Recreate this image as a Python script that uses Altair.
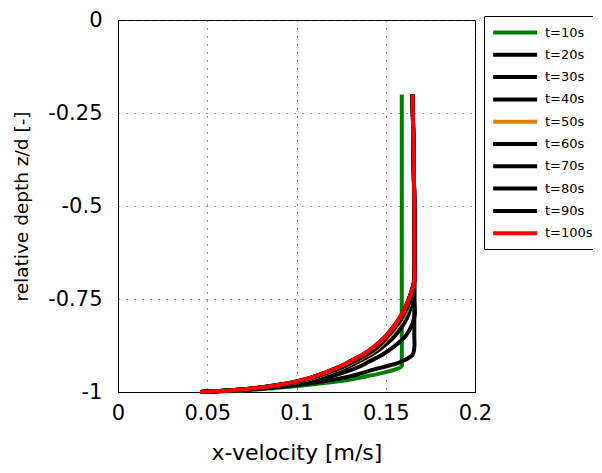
import altair as alt
import pandas as pd

series = ["t=10s", "t=20s", "t=30s", "t=40s", "t=50s",
          "t=60s", "t=70s", "t=80s", "t=90s", "t=100s"]
colors = ["#008000", "#000000", "#000000", "#000000", "#e08010",
          "#000000", "#000000", "#000000", "#000000", "#ff0000"]

depth = [-0.2, -0.5, -0.6, -0.65, -0.7, -0.75, -0.8, -0.85, -0.88, -0.9,
         -0.92, -0.93, -0.94, -0.95, -0.96, -0.97, -0.98, -0.99, -0.995, -1.0]

u_t10 = [0.159, 0.159, 0.159, 0.159, 0.159, 0.159, 0.159, 0.159, 0.159, 0.159,
         0.159, 0.159, 0.155, 0.147, 0.137, 0.126, 0.108, 0.087, 0.072, 0.046]
u_t20 = [0.165, 0.166, 0.166, 0.166, 0.166, 0.166, 0.166, 0.166, 0.166, 0.165,
         0.158, 0.151, 0.143, 0.136, 0.128, 0.117, 0.102, 0.083, 0.068, 0.046]
u_t30 = [0.165, 0.166, 0.166, 0.166, 0.166, 0.166, 0.166, 0.161, 0.154, 0.148,
         0.140, 0.136, 0.131, 0.125, 0.118, 0.109, 0.097, 0.080, 0.066, 0.046]
u_t40 = [0.165, 0.166, 0.166, 0.166, 0.166, 0.165, 0.162, 0.155, 0.148, 0.142,
         0.134, 0.130, 0.125, 0.119, 0.113, 0.105, 0.094, 0.078, 0.065, 0.046]
u_t50 = [0.165, 0.166, 0.166, 0.166, 0.166, 0.164, 0.160, 0.152, 0.146, 0.140,
         0.132, 0.128, 0.123, 0.117, 0.111, 0.103, 0.093, 0.077, 0.065, 0.046]
u_t60 = [0.165, 0.166, 0.166, 0.166, 0.166, 0.164, 0.159, 0.151, 0.145, 0.139,
         0.131, 0.127, 0.122, 0.116, 0.110, 0.102, 0.092, 0.077, 0.064, 0.046]
u_t70 = [0.165, 0.166, 0.166, 0.166, 0.166, 0.163, 0.159, 0.151, 0.145, 0.139,
         0.131, 0.127, 0.122, 0.116, 0.110, 0.102, 0.092, 0.077, 0.064, 0.046]
u_t80 = [0.165, 0.166, 0.166, 0.166, 0.166, 0.163, 0.158, 0.150, 0.144, 0.138,
         0.130, 0.126, 0.121, 0.115, 0.109, 0.102, 0.091, 0.076, 0.064, 0.046]
u_t90 = [0.165, 0.166, 0.166, 0.166, 0.166, 0.163, 0.158, 0.150, 0.143, 0.137,
         0.129, 0.125, 0.120, 0.115, 0.109, 0.101, 0.091, 0.076, 0.064, 0.046]
u_t100 = [0.165, 0.166, 0.166, 0.166, 0.166, 0.163, 0.158, 0.150, 0.143, 0.137,
          0.129, 0.125, 0.120, 0.115, 0.109, 0.101, 0.091, 0.076, 0.064, 0.046]

all_u = [u_t10, u_t20, u_t30, u_t40, u_t50, u_t60, u_t70, u_t80, u_t90, u_t100]

x_ticks = [0, 0.05, 0.1, 0.15, 0.2]
y_ticks = [0, -0.25, -0.5, -0.75, -1]

rows = []
for s, vals in zip(series, all_u):
    for i, (z, u) in enumerate(zip(depth, vals)):
        rows.append({"series": s, "u": u, "z": z, "idx": i})
df = pd.DataFrame(rows)

FONT = "DejaVu Sans"

chart = alt.Chart(df).mark_line(strokeWidth=4, strokeCap="butt",
                                interpolate="catmull-rom").encode(
    x=alt.X("u:Q", scale=alt.Scale(domain=[0, 0.2], nice=False),
            axis=alt.Axis(title="x-velocity [m/s]", values=x_ticks,
                          labelExpr="format(datum.value, '~g')",
                          grid=True, ticks=False, labelPadding=10,
                          labelFlush=False,
                          labelFontSize=21, titleFontSize=22,
                          titlePadding=19)),
    y=alt.Y("z:Q", scale=alt.Scale(domain=[-1, 0], nice=False),
            axis=alt.Axis(title="relative depth z/d [-]", values=y_ticks,
                          labelExpr="datum.value == 0 ? '0' : '-' + format(-datum.value, '~g')",
                          grid=True, ticks=False, labelPadding=16,
                          labelFlush=False,
                          labelFontSize=21, titleFontSize=18.5,
                          titlePadding=16)),
    color=alt.Color("series:N",
                    scale=alt.Scale(domain=series, range=colors),
                    legend=alt.Legend(title=None, orient="none",
                                      legendX=366, legendY=-4,
                                      symbolType="M-1,0H5", symbolSize=215,
                                      symbolStrokeWidth=4, labelOffset=35,
                                      labelFontSize=13, labelFont=FONT,
                                      labelColor="black",
                                      rowPadding=4.3, padding=7,
                                      strokeColor="black", fillColor="white")),
    order=alt.Order("idx:Q"),
).properties(
    width=357, height=372,
    autosize=alt.AutoSizeParams(type="none"),
    padding={"left": 110, "top": 12, "right": 118, "bottom": 73},
).configure_view(
    stroke="black", strokeWidth=1
).configure_axis(
    labelFont=FONT, titleFont=FONT,
    labelColor="black", titleColor="black", titleFontWeight="normal",
    domainColor="black", gridColor="#333333", gridDash=[1, 7],
    gridWidth=1, gridOpacity=1
)

chart.save("out.html", embed_options={"renderer": "svg", "actions": False})
